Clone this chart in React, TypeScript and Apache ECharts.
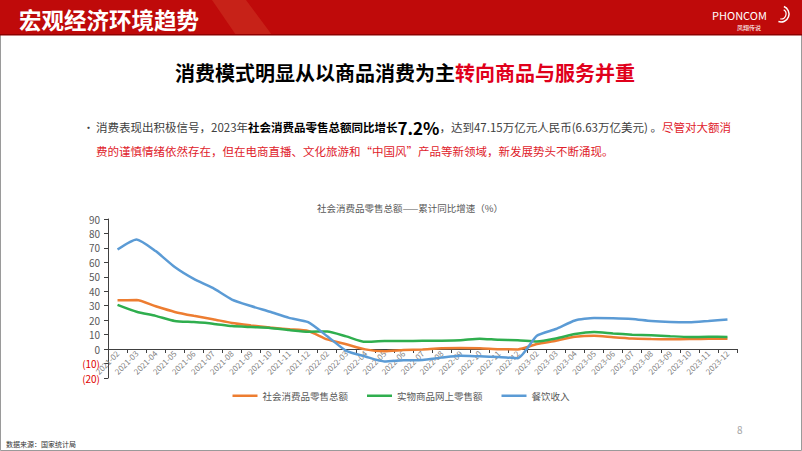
import React, { useEffect, useRef } from "react";
import * as echarts from "echarts";

const categories = [
  "2021-02", "2021-03", "2021-04", "2021-05", "2021-06", "2021-07", "2021-08", "2021-09", "2021-10", "2021-11", "2021-12",
  "2022-02", "2022-03", "2022-04", "2022-05", "2022-06", "2022-07", "2022-08", "2022-09", "2022-10", "2022-11", "2022-12",
  "2023-02", "2023-03", "2023-04", "2023-05", "2023-06", "2023-07", "2023-08", "2023-09", "2023-10", "2023-11", "2023-12",
];

const retailTotal = [
  33.8, 33.9, 29.6, 25.7, 23.0, 20.7, 18.1, 16.4, 14.9, 13.7, 12.5,
  6.7, 3.3, -0.2, -1.5, -0.7, -0.2, 0.5, 0.7, 0.6, -0.1, -0.2,
  3.5, 5.8, 8.5, 9.3, 8.2, 7.3, 7.0, 6.8, 6.9, 7.2, 7.2,
];

const onlineGoods = [
  30.6, 25.8, 23.0, 19.5, 18.7, 17.6, 15.9, 15.2, 14.6, 13.2, 12.0,
  12.2, 8.8, 5.0, 5.6, 5.6, 5.7, 5.8, 6.1, 7.2, 6.4, 6.2,
  5.3, 7.3, 10.4, 11.8, 10.8, 10.0, 9.5, 8.9, 8.4, 8.5, 8.4,
];

const catering = [
  68.9, 75.9, 67.8, 56.8, 48.6, 42.3, 34.3, 29.8, 25.8, 21.6, 18.6,
  8.9, -1.2, -5.1, -8.5, -7.7, -7.5, -5.9, -4.6, -5.0, -5.4, -6.3,
  9.2, 13.9, 19.8, 21.5, 21.4, 20.8, 19.4, 18.7, 18.5, 19.4, 20.4,
];

const seriesNames = ["社会消费品零售总额", "实物商品网上零售额", "餐饮收入"];
const seriesColors = ["#ED7D31", "#2FAE4E", "#5B9BD5"];

const FONT = '"Noto Sans CJK SC", "Noto Sans", sans-serif';

export default function App() {
  const ref = useRef<HTMLDivElement>(null);

  useEffect(() => {
    if (!ref.current) return;
    const chart = echarts.init(ref.current, undefined, { renderer: "svg" });
    const dataSets = [retailTotal, onlineGoods, catering];

    chart.setOption({
      animation: false,
      backgroundColor: "#ffffff",
      textStyle: { fontFamily: FONT },
      title: {
        text: "社会消费品零售总额——累计同比增速（%）",
        left: 405,
        textAlign: "center",
        top: 198,
        textStyle: { fontSize: 9.5, fontWeight: "normal", color: "#595959", fontFamily: FONT },
      },
      legend: {
        data: seriesNames,
        left: "center",
        top: 386,
        icon: "rect",
        itemWidth: 25,
        itemHeight: 2.5,
        itemGap: 19,
        textStyle: { fontSize: 9.5, color: "#595959", fontFamily: FONT },
      },
      grid: [
        { left: 108, right: 65, top: 219, bottom: 73, containLabel: false },
        // zero-line axis holder: its bottom edge sits on the value 0 of the main grid
        { left: 108, right: 65, top: 300, bottom: 102, containLabel: false },
      ],
      xAxis: [
        {
          type: "category",
          data: categories,
          gridIndex: 0,
          boundaryGap: true,
          show: false,
        },
        {
          type: "category",
          data: categories,
          gridIndex: 1,
          boundaryGap: true,
          position: "bottom",
          axisLine: { onZero: false, lineStyle: { color: "#404040", width: 1 } },
          axisTick: { show: true, length: 4, lineStyle: { color: "#404040" } },
          axisLabel: { rotate: 45, fontSize: 8, color: "#7F7F7F", margin: 3, interval: 0, fontFamily: FONT },
        },
      ],
      yAxis: [
        {
          type: "value",
          gridIndex: 0,
          min: -20,
          max: 90,
          interval: 10,
          splitLine: { show: false },
          axisLine: { show: true, lineStyle: { color: "#404040", width: 1 } },
          axisTick: { show: true, length: 4, lineStyle: { color: "#404040" } },
          axisLabel: {
            fontSize: 10,
            color: "#595959",
            fontFamily: FONT,
            formatter: (v: number) => (v < 0 ? `{neg|(${-v})}` : `${v}`),
            rich: { neg: { color: "#E00000", fontSize: 10, fontFamily: FONT } },
          },
        },
        { type: "value", gridIndex: 1, show: false, min: 0, max: 1 },
      ],
      series: seriesNames.map((name, i) => ({
        name,
        type: "line",
        xAxisIndex: 0,
        yAxisIndex: 0,
        data: dataSets[i],
        symbol: "none",
        smooth: 0.2,
        z: 3,
        lineStyle: { width: 2.5, color: seriesColors[i] },
        itemStyle: { color: seriesColors[i] },
      })),
      graphic: [
        { type: "rect", shape: { x: 0.5, y: 0.5, width: 801, height: 450 }, style: { fill: "none", stroke: "#9a9a9a", lineWidth: 1 }, z: 0 },
        { type: "rect", shape: { x: 0, y: 0, width: 802, height: 35 }, style: { fill: "#BF0A0A" } },
        { type: "polygon", shape: { points: [[212, 0], [246, 0], [272, 35], [236, 35]] }, style: { fill: "#C9281B", opacity: 0.8 } },
        { type: "rect", shape: { x: 0, y: 34, width: 802, height: 1.5 }, style: { fill: "#8E0000" } },
        {
          type: "text",
          x: 19,
          y: 19,
          style: { text: "宏观经济环境趋势", fill: "#ffffff", font: `bold 22.5px ${FONT}`, textVerticalAlign: "middle" },
        },
        {
          type: "text",
          x: 712,
          y: 15,
          style: { text: "PHONCOM", fill: "#ffffff", font: `11px ${FONT}`, textVerticalAlign: "middle" },
        },
        {
          type: "text",
          x: 737,
          y: 27,
          style: { text: "凤翔传说", fill: "#ffffff", font: `6px ${FONT}`, textVerticalAlign: "middle" },
        },
        { type: "arc", shape: { cx: 781, cy: 14, r: 8, startAngle: -1.2, endAngle: 1.9 }, style: { stroke: "#ffffff", lineWidth: 1.5, fill: "none" } },
        { type: "arc", shape: { cx: 781, cy: 14, r: 5, startAngle: -1.0, endAngle: 1.7 }, style: { stroke: "#ffffff", lineWidth: 1.2, fill: "none" } },
        {
          type: "text",
          x: 405,
          y: 72,
          style: {
            text: "{a|消费模式明显从以商品消费为主}{b|转向商品与服务并重}",
            textAlign: "center",
            textVerticalAlign: "middle",
            rich: {
              a: { fill: "#000000", fontSize: 20, fontWeight: "bold", fontFamily: FONT },
              b: { fill: "#E0001B", fontSize: 20, fontWeight: "bold", fontFamily: FONT },
            },
          },
        },
        {
          type: "text",
          x: 83,
          y: 127,
          style: { text: "•", fill: "#404040", font: `11px ${FONT}`, textVerticalAlign: "middle" },
        },
        {
          type: "text",
          x: 96,
          y: 127,
          style: {
            text: "{n|消费表现出积极信号，2023年}{b|社会消费品零售总额同比增长}{c|7.2%}{n|，达到47.15万亿元人民币(6.63万亿美元) 。}{r|尽管对大额消}",
            textVerticalAlign: "middle",
            rich: {
              n: { fill: "#404040", fontSize: 11.5, fontFamily: FONT },
              b: { fill: "#000000", fontSize: 11.5, fontWeight: "bold", fontFamily: FONT },
              c: { fill: "#000000", fontSize: 17, fontWeight: "bold", fontFamily: FONT },
              r: { fill: "#E0222B", fontSize: 11.5, fontFamily: FONT },
            },
          },
        },
        {
          type: "text",
          x: 96,
          y: 151,
          style: {
            text: "费的谨慎情绪依然存在，但在电商直播、文化旅游和“中国风”产品等新领域，新发展势头不断涌现。",
            fill: "#E0222B",
            font: `11.5px ${FONT}`,
            textVerticalAlign: "middle",
          },
        },
        {
          type: "text",
          x: 737,
          y: 429,
          style: { text: "8", fill: "#A6A6A6", font: `10px ${FONT}`, textVerticalAlign: "middle" },
        },
        {
          type: "text",
          x: 6,
          y: 444,
          style: { text: "数据来源：国家统计局", fill: "#333333", font: `7px ${FONT}`, textVerticalAlign: "middle" },
        },
      ],
    });

    return () => chart.dispose();
  }, []);

  return (
    <div style={{ position: "fixed", left: 0, top: 0, width: 802, height: 451 }}>
      <div ref={ref} style={{ width: 802, height: 451 }} />
    </div>
  );
}
